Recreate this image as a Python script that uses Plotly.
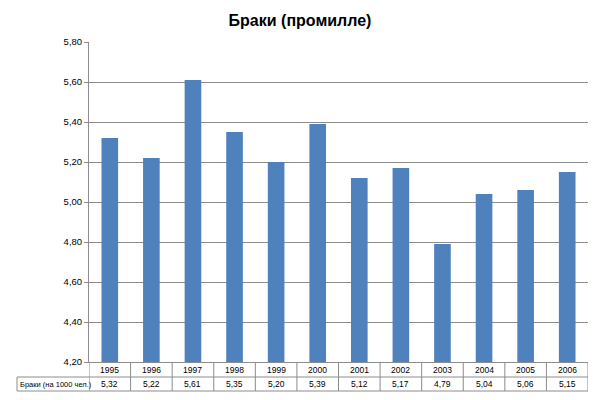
import plotly.graph_objects as go

years = ['1995', '1996', '1997', '1998', '1999', '2000',
         '2001', '2002', '2003', '2004', '2005', '2006']
values = [5.32, 5.22, 5.61, 5.35, 5.20, 5.39, 5.12, 5.17, 4.79, 5.04, 5.06, 5.15]
series_name = 'Браки (на 1000 чел.)'
title_text = 'Браки (промилле)'

bar_color = '#4F81BD'
grid_color = '#8C8C8C'
font_family = 'Liberation Sans'

fig = go.Figure()
fig.add_trace(go.Bar(x=list(range(len(years))), y=values, marker=dict(color=bar_color, line=dict(width=0)),
                     name=series_name, hoverinfo='y'))

# row positions of the data table (in paper units below the plot area)
row1_bottom = -15 / 320
row2_bottom = -29 / 320
left_cell = -72 / 499

shapes = []
n = len(years)
for i in range(n + 1):
    shapes.append(dict(type='line', xref='x', yref='paper', x0=i - 0.5, x1=i - 0.5,
                       y0=0, y1=row2_bottom, line=dict(color=grid_color, width=1)))
for yy in (row1_bottom, row2_bottom):
    shapes.append(dict(type='line', xref='paper', yref='paper', x0=left_cell, x1=1,
                       y0=yy, y1=yy, line=dict(color=grid_color, width=1)))
shapes.append(dict(type='line', xref='paper', yref='paper', x0=left_cell, x1=left_cell,
                   y0=row1_bottom, y1=row2_bottom, line=dict(color=grid_color, width=1)))

cell_font = dict(size=8.5, color='#000000', family=font_family)
annotations = []
for i, (yr, v) in enumerate(zip(years, values)):
    annotations.append(dict(x=i, y=(0 + row1_bottom) / 2, xref='x', yref='paper', text=yr,
                            showarrow=False, yanchor='middle', font=cell_font))
    annotations.append(dict(x=i, y=(row1_bottom + row2_bottom) / 2, xref='x', yref='paper',
                            text=f'{v:.2f}'.replace('.', ','), showarrow=False, yanchor='middle',
                            font=cell_font))
annotations.append(dict(x=left_cell + 0.002, y=(row1_bottom + row2_bottom) / 2, xref='paper', yref='paper',
                        text=series_name, showarrow=False, xanchor='left', yanchor='middle',
                        font=dict(size=7.5, color='#000000', family=font_family)))

fig.update_layout(
    width=600, height=400,
    title=dict(text='<b>' + title_text + '</b>', x=0.5, xanchor='center', y=0.95, yanchor='middle',
               font=dict(size=16, color='#000000', family=font_family)),
    separators=', ',
    plot_bgcolor='white', paper_bgcolor='white',
    margin=dict(l=89, r=12, t=42, b=38),
    bargap=0.6,
    showlegend=False,
    font=dict(family=font_family, color='#000000'),
    xaxis=dict(range=[-0.5, n - 0.5], showticklabels=False, showgrid=False, zeroline=False,
               showline=True, linecolor=grid_color, ticks=''),
    yaxis=dict(range=[4.2, 5.8], dtick=0.2, tickformat='.2f', showgrid=True, gridcolor=grid_color,
               gridwidth=1, zeroline=False, showline=True, linecolor=grid_color, ticks='outside',
               ticklen=4, tickcolor=grid_color, tickfont=dict(size=9.5, color='#000000')),
    shapes=shapes,
    annotations=annotations,
)

fig.write_html('out.html', post_script="document.body.style.margin='0';",
               config={'displayModeBar': False})
